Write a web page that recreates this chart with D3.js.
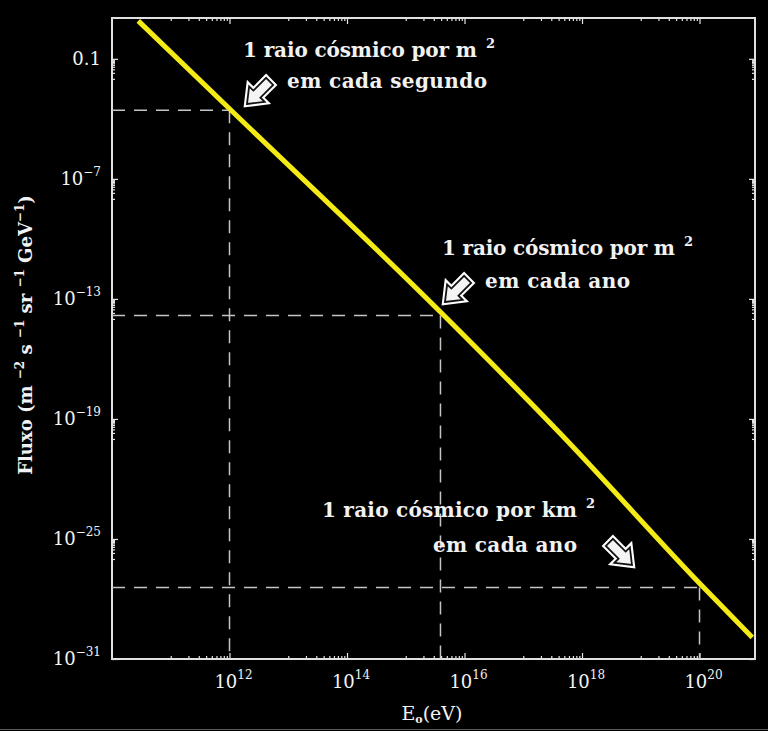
<!DOCTYPE html>
<head>
  <meta charset="utf-8">
  <title>Fluxo de raios cósmicos</title>
  <style>
    body { margin: 0; background: #000; }
    svg { display: block; }
    text { font-family: "DejaVu Serif", serif; fill: #f2f2f2; }
  </style>
</head>
<body>
<svg width="768" height="731"></svg>

<script src="https://d3js.org/d3.v7.min.js"></script>
<script>

// spectrum (energy in eV, flux in m^-2 s^-1 sr^-1 GeV^-1)
var energy = [2.8e10, 1.0e12, 3.9e15, 4.3e17, 1.0e20, 7.9e20];
var flux   = [7.9, 3.2e-4, 2.2e-14, 1.8e-20, 6.1e-28, 1.2e-30];

// labelled decades on each axis
var xTickExp = [12, 14, 16, 18, 20];
var yTickExp = [-1, -7, -13, -19, -25, -31];

// the three marked rates: energy, flux
var markE = [1e12, 3.9e15, 1e20];
var markF = [2.7e-4, 1.5e-14, 3.8e-28];

var noteLine1 = ["1 raio cósmico por m", "1 raio cósmico por m", "1 raio cósmico por km"];
var noteLine2 = ["em cada segundo", "em cada ano", "em cada ano"];

var svg = d3.select("svg");
var pLeft = 112, pRight = 755, pTop = 18, pBottom = 659;

var x = d3.scaleLog().domain([1e10, 8.8e20]).range([pLeft, pRight]);
var y = d3.scaleLog().domain([1e-31, 11]).range([pBottom, pTop]);

// minor ticks: the decade just below each labelled one
function minors(exps, scale) {
  var out = [];
  exps.forEach(function(k) {
    for (var m = 1; m < 10; m++) {
      var v = m * Math.pow(10, k - 1);
      var d = scale.domain();
      if (v >= d[0] && v <= d[1]) out.push(v);
    }
  });
  return out;
}
var xMajor = xTickExp.map(function(k) { return Math.pow(10, k); });
var yMajor = yTickExp.map(function(k) { return Math.pow(10, k); });
var xMinor = minors(xTickExp, x);
var yMinor = minors(yTickExp, y);

function tickAxis(axis, tr, vals, len) {
  var g = svg.append("g").attr("transform", tr)
    .call(axis.tickValues(vals).tickSize(-len).tickSizeOuter(0).tickFormat(""));
  g.select(".domain").remove();
  g.selectAll("line").attr("stroke", "#e6e6e6").attr("stroke-width", 1.2);
}
tickAxis(d3.axisBottom(x), "translate(0," + pBottom + ")", xMinor, 3);
tickAxis(d3.axisBottom(x), "translate(0," + pBottom + ")", xMajor, 6);
tickAxis(d3.axisTop(x), "translate(0," + pTop + ")", xMinor, 3);
tickAxis(d3.axisTop(x), "translate(0," + pTop + ")", xMajor, 6);
tickAxis(d3.axisLeft(y), "translate(" + pLeft + ",0)", yMinor, 3);
tickAxis(d3.axisLeft(y), "translate(" + pLeft + ",0)", yMajor, 6);
tickAxis(d3.axisRight(y), "translate(" + pRight + ",0)", yMinor, 3);
tickAxis(d3.axisRight(y), "translate(" + pRight + ",0)", yMajor, 6);

// frame
svg.append("rect")
    .attr("x", pLeft).attr("y", pTop)
    .attr("width", pRight - pLeft).attr("height", pBottom - pTop)
    .attr("fill", "none").attr("stroke", "#e0e0e0").attr("stroke-width", 2);

// tick labels
xTickExp.forEach(function(k) {
  var t = svg.append("text")
      .attr("x", x(Math.pow(10, k)) + 4).attr("y", 688)
      .attr("text-anchor", "middle").attr("font-size", 18);
  t.append("tspan").text("10");
  t.append("tspan").attr("dy", -9).attr("font-size", 12).text(k);
});
yTickExp.forEach(function(k) {
  var t = svg.append("text")
      .attr("x", 101).attr("y", y(Math.pow(10, k)) + 6)
      .attr("text-anchor", "end").attr("font-size", 18);
  if (k === -1) { t.text("0.1"); return; }
  t.append("tspan").text("10");
  t.append("tspan").attr("dy", -9).attr("font-size", 12).text("\u2212" + (-k));
});

// axis titles
var xt = svg.append("text").attr("x", 432).attr("y", 720)
    .attr("text-anchor", "middle").attr("font-size", 19);
xt.append("tspan").text("E");
xt.append("tspan").attr("dy", 3).attr("font-size", 11).attr("font-weight", "bold").text("o");
xt.append("tspan").attr("dy", -3).text("(eV)");

var yt = svg.append("text").attr("transform", "translate(32,335) rotate(-90)")
    .attr("text-anchor", "middle").attr("font-size", 18).attr("font-weight", "bold");
var yParts = [["Fluxo (m ", "\u22122"], [" s ", "\u22121"], [" sr ", "\u22121"], [" GeV", "\u22121"]];
yParts.forEach(function(p, i) {
  yt.append("tspan").attr("dy", i ? 8 : 0).text(p[0]);
  yt.append("tspan").attr("dy", -8).attr("font-size", 12).text(p[1]);
});
yt.append("tspan").attr("dy", 8).text(")");

// dashed guides
var guides = svg.append("g")
    .attr("stroke", "#c4c4c4").attr("stroke-width", 1.5)
    .attr("stroke-dasharray", "13,9").attr("fill", "none");
markE.forEach(function(e, i) {
  guides.append("line")
      .attr("x1", pLeft).attr("x2", x(e))
      .attr("y1", y(markF[i])).attr("y2", y(markF[i]));
  guides.append("line")
      .attr("x1", x(e)).attr("x2", x(e))
      .attr("y1", y(markF[i])).attr("y2", pBottom);
});

// spectrum
var line = d3.line()
    .x(function(d) { return x(d[0]); })
    .y(function(d) { return y(d[1]); })
    .curve(d3.curveMonotoneX);
svg.append("path")
    .datum(d3.zip(energy, flux))
    .attr("d", line)
    .attr("fill", "none")
    .attr("stroke", "#f3ea16")
    .attr("stroke-width", 5)
    .attr("stroke-linecap", "butt");

// block arrows, tip at origin pointing along +x
var arrowPts = [[0,0],[-14,-11],[-14,-5],[-32,-5],[-32,5],[-14,5],[-14,11]];
function arrow(tx, ty, ang) {
  var g = svg.append("g").attr("transform", "translate(" + tx + "," + ty + ") rotate(" + ang + ")");
  g.append("polygon").attr("points", arrowPts.join(" "))
      .attr("fill", "#fff").attr("stroke", "#fff").attr("stroke-width", 6)
      .attr("stroke-linejoin", "miter");
  g.append("polygon").attr("points", arrowPts.join(" "))
      .attr("fill", "#f4f4f4").attr("stroke", "#111").attr("stroke-width", 1.8);
}
arrow(247, 104, 135);
arrow(445, 302, 135);
arrow(632, 565, 45);

// notes
var notePos = [
  {x1: 243, y1: 57, w1: 234, x2: 287, y2: 88, w2: 200},
  {x1: 442, y1: 255, w1: 233, x2: 485, y2: 288, w2: 145},
  {x1: 322, y1: 517, w1: 255, x2: 433, y2: 552, w2: 144}
];
notePos.forEach(function(p, i) {
  svg.append("text").attr("x", p.x1).attr("y", p.y1)
      .attr("font-size", 20).attr("font-weight", "bold")
      .attr("textLength", p.w1).attr("lengthAdjust", "spacing")
      .text(noteLine1[i]);
  svg.append("text").attr("x", p.x1 + p.w1 + 9).attr("y", p.y1 - 9)
      .attr("font-size", 13).attr("font-weight", "bold").text("2");
  svg.append("text").attr("x", p.x2).attr("y", p.y2)
      .attr("font-size", 20).attr("font-weight", "bold")
      .attr("textLength", p.w2).attr("lengthAdjust", "spacing")
      .text(noteLine2[i]);
});

// thin border at the foot of the image
svg.append("line").attr("x1", 0).attr("x2", 768).attr("y1", 729.5).attr("y2", 729.5)
    .attr("stroke", "#5a5a5a").attr("stroke-width", 1);

</script>
</html>
